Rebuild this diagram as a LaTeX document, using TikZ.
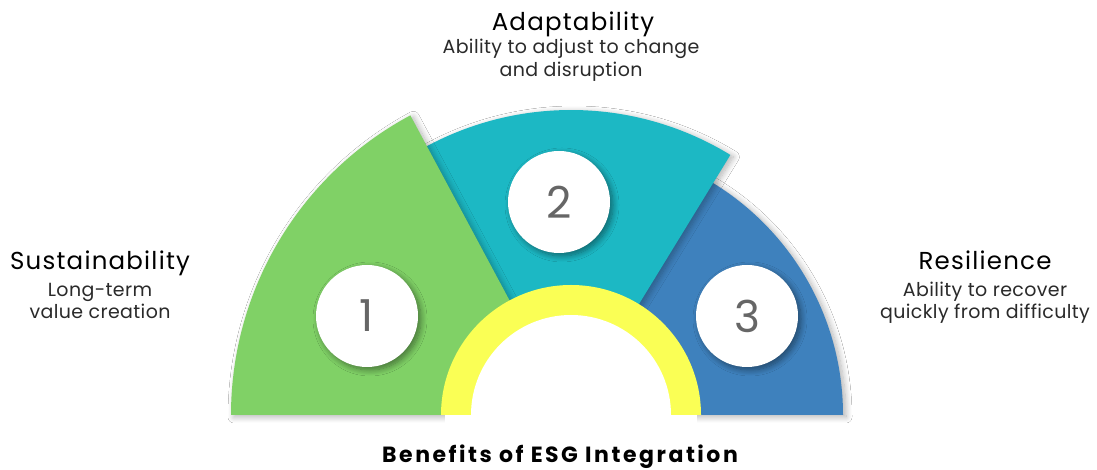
\documentclass[tikz,border=0pt]{standalone}
\usepackage{fontspec}
\setmainfont{Poppins}
\usetikzlibrary{shadows.blur}
\definecolor{cgreen}{HTML}{80D166}
\definecolor{cteal}{HTML}{1CB8C4}
\definecolor{cblue}{HTML}{3E81BD}
\definecolor{cyellow}{HTML}{FAFF55}
\definecolor{cdigit}{HTML}{666666}
\definecolor{csub}{HTML}{2A2A2A}
\begin{document}
\begin{tikzpicture}[x=1pt,y=1pt,
  secshadow/.style={blur shadow={shadow xshift=3pt,shadow yshift=-2pt,shadow blur steps=10,shadow blur radius=6pt,shadow opacity=30}},
  numcircle/.style={circle,fill=white,minimum size=102pt,inner sep=0pt,text=cdigit,
     font=\fontsize{44}{44}\selectfont,
     blur shadow={shadow xshift=3pt,shadow yshift=-3pt,shadow blur steps=10,shadow blur radius=6pt,shadow opacity=45}},
  titletext/.style={anchor=base,inner sep=0pt,font=\fontsize{24.5}{24.5}\selectfont\addfontfeatures{LetterSpace=5},text=black},
  subtext/.style={anchor=base,inner sep=0pt,font=\fontsize{19}{19}\selectfont\addfontfeatures{LetterSpace=2},text=csub},
  headtext/.style={anchor=base,inner sep=0pt,font=\fontsize{22}{22}\selectfont\bfseries\addfontfeatures{LetterSpace=11.5},text=black}]
\useasboundingbox (0,0) rectangle (1097,470);
\fill[white] (0,0) rectangle (1097,470);
\coordinate (O) at (571,55);
% sectors
\path[fill=cblue,secshadow] (O) -- ++(0:272) arc[start angle=0,end angle=70,radius=272] -- cycle;
\path[fill=cteal,secshadow] (O) -- ++(125:305) arc[start angle=125,end angle=58.5,radius=305] -- cycle;
\path[fill=cgreen,secshadow] (O) -- ++(180:340) arc[start angle=180,end angle=118.2,radius=340] -- cycle;
\fill[white] (445,30) rectangle (697,55);
% yellow ring
\fill[cyellow] (O) ++(130,0) arc[start angle=0,end angle=180,radius=130] -- cycle;
\fill[white] (O) ++(100,0) arc[start angle=0,end angle=180,radius=100] -- cycle;
% number circles
\node[numcircle] (c1) at (367,154) {1};
\node[numcircle] (c2) at (559,268) {2};
\node[numcircle] (c3) at (747,154) {3};
% labels
\node[titletext] (t2) at (573,439) {Adaptability};
\node[subtext] (s2a) at (571,416) {Ability to adjust to change};
\node[subtext] (s2b) at (571,393) {and disruption};
\node[titletext] (t1) at (100,200.7) {Sustainability};
\node[subtext] (s1a) at (100,173.3) {Long-term};
\node[subtext] (s1b) at (100,151.7) {value creation};
\node[titletext] (t3) at (985,200.7) {Resilience};
\node[subtext] (s3a) at (985,173.3) {Ability to recover};
\node[subtext] (s3b) at (985,151.7) {quickly from difficulty};
\node[headtext] (head) at (560,7) {Benefits of ESG Integration};
\end{tikzpicture}
\end{document}
